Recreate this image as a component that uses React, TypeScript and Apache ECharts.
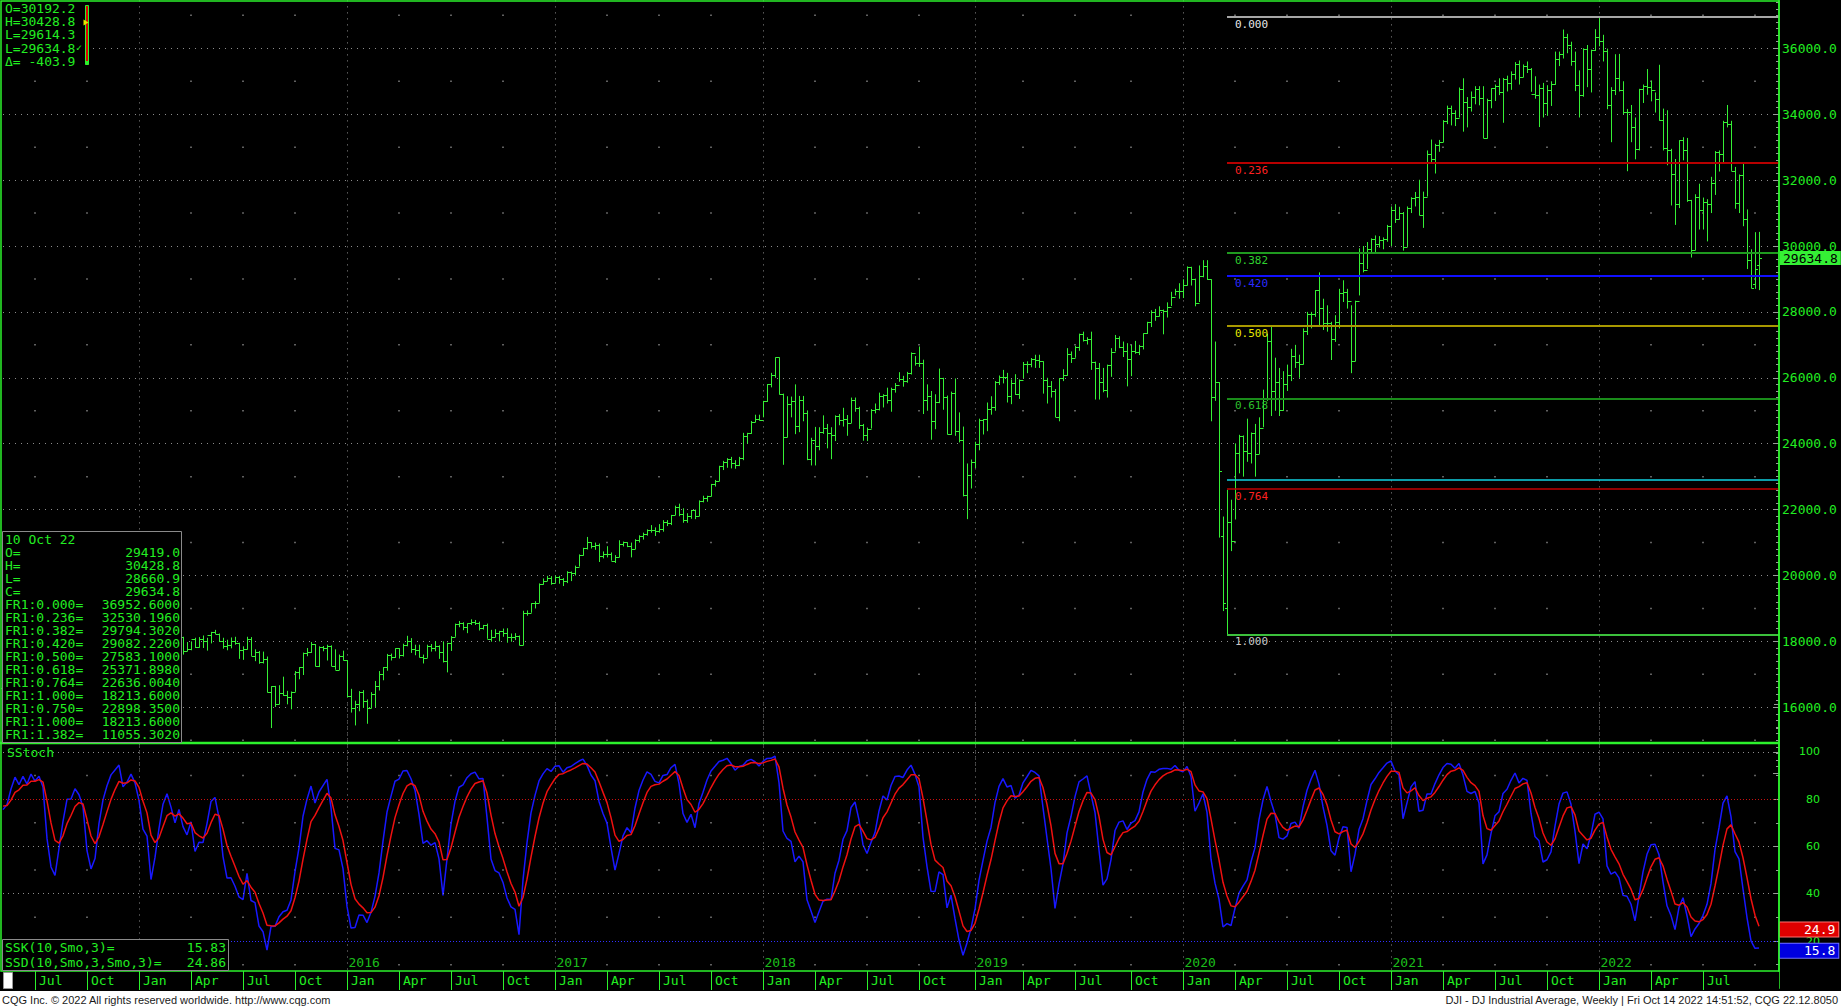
import React, { useEffect, useRef } from "react";
import * as echarts from "echarts";

type Row = [string, number, number, number, number];

// Weekly OHLC of the DJI (week starting Monday): [MM-DD, open, high, low, close]
const w2014: Row[] = [
  ["02-03",15698,15798,15340,15794],["02-10",15794,16154,15760,16154],["02-17",16154,16175,15960,16103],["02-24",16103,16330,15990,16322],
  ["03-03",16322,16460,16150,16452],["03-10",16452,16460,16050,16065],["03-17",16065,16400,16050,16302],["03-24",16302,16400,16170,16323],["03-31",16323,16620,16300,16413],
  ["04-07",16413,16470,16015,16027],["04-14",16027,16425,16015,16409],["04-21",16409,16530,16350,16361],["04-28",16361,16630,16340,16513],
  ["05-05",16513,16620,16440,16584],["05-12",16584,16736,16370,16491],["05-19",16491,16615,16360,16606],["05-26",16606,16735,16600,16717],
  ["06-02",16717,16930,16700,16924],["06-09",16924,16970,16700,16776],["06-16",16776,16980,16760,16948],["06-23",16948,16950,16710,16851],["06-30",16851,17075,16850,17068],
  ["07-07",17068,17070,16830,16944],["07-14",16944,17150,16890,17100],["07-21",17100,17150,16950,16961],["07-28",16961,17000,16330,16493],
  ["08-04",16493,16630,16330,16553],["08-11",16553,16700,16520,16663],["08-18",16663,17050,16660,17001],["08-25",17001,17110,17000,17098],
  ["09-01",17098,17150,16990,17137],["09-08",17137,17140,16930,16988],["09-15",16988,17350,16960,17280],["09-22",17280,17280,16950,17113],["09-29",17113,17120,16750,17010],
  ["10-06",17010,17150,16540,16544],["10-13",16544,16560,15855,16380],["10-20",16380,16820,16380,16805],["10-27",16805,17400,16800,17391],
  ["11-03",17391,17580,17370,17574],["11-10",17574,17680,17530,17634],["11-17",17634,17820,17600,17810],["11-24",17810,17900,17790,17828],
  ["12-01",17828,17990,17750,17958],["12-08",17958,17990,17280,17280],["12-15",17280,17800,17070,17804],["12-22",17804,18100,17800,18053],["12-29",18053,18100,17800,17833],
];
const w2015: Row[] = [
  ["01-05",17833,17900,17260,17737],["01-12",17737,17900,17240,17512],["01-19",17512,17860,17270,17673],["01-26",17673,17700,17140,17165],
  ["02-02",17165,17900,17040,17824],["02-09",17824,18030,17600,18019],["02-16",18019,18160,17900,18140],["02-23",18140,18240,18040,18133],
  ["03-02",18133,18290,17800,17856],["03-09",17856,17990,17630,17749],["03-16",17749,18200,17700,18128],["03-23",18128,18140,17600,17713],["03-30",17713,17980,17700,17763],
  ["04-06",17763,18000,17730,18058],["04-13",18058,18110,17800,17826],["04-20",17826,18130,17810,18080],["04-27",18080,18180,17800,18024],
  ["05-04",18024,18110,17720,18191],["05-11",18191,18290,17940,18273],["05-18",18273,18350,18220,18232],["05-25",18232,18240,17990,18011],
  ["06-01",18011,18110,17780,17849],["06-08",17849,18050,17730,17899],["06-15",17899,18120,17790,18016],["06-22",18016,18140,17900,17947],["06-29",17947,17960,17470,17730],
  ["07-06",17730,17850,17440,17760],["07-13",17760,18140,17750,18086],["07-20",18086,18130,17560,17568],["07-27",17568,17760,17400,17690],
  ["08-03",17690,17710,17320,17373],["08-10",17373,17690,17330,17477],["08-17",17477,17540,16450,16460],["08-24",16460,16640,15370,16643],["08-31",16643,16650,16010,16102],
  ["09-07",16102,16670,16090,16433],["09-14",16433,16930,16350,16384],["09-21",16384,16500,16090,16315],["09-28",16315,16480,15940,16472],
  ["10-05",16472,17100,16470,17084],["10-12",17084,17220,16850,17216],["10-19",17216,17660,16980,17647],["10-26",17647,17800,17550,17664],
  ["11-02",17664,17980,17650,17910],["11-09",17910,17920,17240,17245],["11-16",17245,17850,17220,17824],["11-23",17824,17860,17700,17798],["11-30",17798,17900,17420,17848],
  ["12-07",17848,17880,17250,17265],["12-14",17265,17760,17140,17128],["12-21",17128,17600,17130,17553],["12-28",17553,17720,17420,17425],
];
const w2016: Row[] = [
  ["01-04",17425,17430,16300,16346],["01-11",16346,16560,15840,15988],["01-18",15988,16200,15450,16094],["01-25",16094,16490,15880,16466],
  ["02-01",16466,16520,15980,16205],["02-08",16205,16240,15500,15974],["02-15",15974,16460,15970,16392],["02-22",16392,16800,16010,16640],["02-29",16640,17100,16510,17007],
  ["03-07",17007,17220,16820,17213],["03-14",17213,17620,17110,17602],["03-21",17602,17630,17420,17516],["03-28",17516,17790,17500,17793],
  ["04-04",17793,17800,17480,17577],["04-11",17577,17930,17540,17898],["04-18",17898,18170,17850,18004],["04-25",18004,18100,17650,17774],
  ["05-02",17774,17900,17580,17740],["05-09",17740,17900,17510,17535],["05-16",17535,17600,17330,17501],["05-23",17501,17900,17500,17873],["05-30",17873,17920,17690,17807],
  ["06-06",17807,18010,17700,17865],["06-13",17865,17880,17470,17675],["06-20",17675,18000,17360,17400],["06-27",17400,17960,17060,17949],
  ["07-04",17949,18160,17710,18147],["07-11",18147,18540,18140,18517],["07-18",18517,18620,18430,18571],["07-25",18571,18580,18340,18432],
  ["08-01",18432,18550,18250,18544],["08-08",18544,18670,18500,18576],["08-15",18576,18650,18500,18552],["08-22",18552,18600,18330,18395],["08-29",18395,18500,18360,18492],
  ["09-05",18492,18540,18080,18085],["09-12",18085,18350,17990,18124],["09-19",18124,18370,18120,18262],["09-26",18262,18320,18000,18308],
  ["10-03",18308,18390,18140,18240],["10-10",18240,18400,17960,18138],["10-17",18138,18240,17990,18145],["10-24",18145,18250,18040,18161],["10-31",18161,18180,17880,17888],
  ["11-07",17888,18930,17880,18847],["11-14",18847,18940,18780,18868],["11-21",18868,19160,18870,19152],["11-28",19152,19220,19000,19171],
  ["12-05",19171,19760,19170,19757],["12-12",19757,19910,19720,19843],["12-19",19843,19990,19830,19934],["12-26",19934,19980,19720,19763],
];
const w2017: Row[] = [
  ["01-02",19763,20000,19780,19964],["01-09",19964,19990,19750,19886],["01-16",19886,19920,19680,19827],["01-23",19827,20130,19770,20094],["01-30",20094,20120,19830,20071],
  ["02-06",20071,20300,20000,20270],["02-13",20270,20640,20270,20624],["02-20",20624,20840,20600,20822],["02-27",20822,21170,20790,21006],
  ["03-06",21006,21010,20820,20903],["03-13",20903,21000,20780,20915],["03-20",20915,20970,20410,20597],["03-27",20597,20730,20520,20663],
  ["04-03",20663,20890,20550,20656],["04-10",20656,20700,20450,20453],["04-17",20453,20620,20380,20548],["04-24",20548,21070,20550,20941],
  ["05-01",20941,21030,20880,21007],["05-08",21007,21010,20860,20897],["05-15",20897,21000,20550,20804],["05-22",20804,21100,20800,21080],["05-29",21080,21220,21000,21206],
  ["06-05",21206,21300,21090,21272],["06-12",21272,21400,21210,21384],["06-19",21384,21530,21300,21395],["06-26",21395,21460,21200,21350],
  ["07-03",21350,21560,21300,21414],["07-10",21414,21680,21330,21638],["07-17",21638,21680,21500,21580],["07-24",21580,21840,21530,21830],["07-31",21830,22120,21830,22092],
  ["08-07",22092,22180,21800,21858],["08-14",21858,22040,21600,21675],["08-21",21675,21890,21600,21814],["08-28",21814,21990,21720,21988],
  ["09-04",21988,22000,21710,21798],["09-11",21798,22280,21800,22268],["09-18",22268,22420,22220,22350],["09-25",22350,22420,22240,22405],
  ["10-02",22405,22780,22400,22774],["10-09",22774,22900,22700,22872],["10-16",22872,23330,22860,23329],["10-23",23329,23480,23200,23434],["10-30",23434,23560,23270,23539],
  ["11-06",23539,23600,23250,23422],["11-13",23422,23500,23240,23358],["11-20",23358,23600,23320,23558],["11-27",23558,24330,23500,24231],
  ["12-04",24231,24330,24000,24329],["12-11",24329,24690,24300,24652],["12-18",24652,24880,24650,24754],["12-25",24754,24880,24700,24719],
];
const w2018: Row[] = [
  ["01-01",24719,25300,24800,25296],["01-08",25296,25810,25270,25803],["01-15",25803,26150,25710,26072],["01-22",26072,26620,26000,26617],["01-29",26617,26620,25490,25521],
  ["02-05",25521,25520,23360,24191],["02-12",24191,25440,24190,25219],["02-19",25219,25430,24800,25310],["02-26",25310,25800,24290,24538],
  ["03-05",24538,25450,24350,25336],["03-12",25336,25450,24680,24946],["03-19",24946,25010,23500,23533],["03-26",23533,24180,23340,24103],
  ["04-02",24103,24510,23340,23933],["04-09",23933,24500,23800,24360],["04-16",24360,24860,24300,24463],["04-23",24463,24600,23860,24311],["04-30",24311,24500,23530,24263],
  ["05-07",24263,24860,24080,24831],["05-14",24831,24900,24560,24715],["05-21",24715,25090,24520,24753],["05-28",24753,24870,24240,24635],
  ["06-04",24635,25400,24630,25317],["06-11",25317,25400,24970,25090],["06-18",25090,25120,24450,24581],["06-25",24581,24600,24090,24271],
  ["07-02",24271,24490,24080,24456],["07-09",24456,25050,24460,25019],["07-16",25019,25220,24920,25058],["07-23",25058,25550,25010,25451],["07-30",25451,25500,25100,25463],
  ["08-06",25463,25700,25220,25313],["08-13",25313,25700,24970,25669],["08-20",25669,25840,25550,25790],["08-27",25790,26170,25880,25965],
  ["09-03",25965,26060,25730,25917],["09-10",25917,26180,25850,26155],["09-17",26155,26770,26100,26743],["09-24",26743,26660,26370,26458],
  ["10-01",26458,26950,26330,26447],["10-08",26447,26550,24900,25340],["10-15",25340,25800,25000,25444],["10-22",25444,25600,24120,24688],["10-29",24688,25500,24440,25270],
  ["11-05",25270,26280,25230,25989],["11-12",25989,26000,25030,25413],["11-19",25413,25460,24280,24286],["11-26",24286,25580,24270,25538],
  ["12-03",25538,25980,24240,24389],["12-10",24389,24950,24040,24100],["12-17",24100,24520,22400,22445],["12-24",22445,23400,21710,23062],["12-31",23062,23520,22640,23433],
];
const w2019: Row[] = [
  ["01-07",23433,24060,23260,23996],["01-14",23996,24760,23800,24706],["01-21",24706,24750,24280,24737],["01-28",24737,25250,24380,25064],
  ["02-04",25064,25440,24880,25106],["02-11",25106,25900,25000,25883],["02-18",25883,26070,25780,26031],["02-25",26031,26240,25830,26026],
  ["03-04",26026,26150,25250,25450],["03-11",25450,25950,25200,25849],["03-18",25849,26110,25480,25502],["03-25",25502,25950,25360,25929],
  ["04-01",25929,26480,25990,26425],["04-08",26425,26500,26140,26412],["04-15",26412,26600,26320,26560],["04-22",26560,26700,26300,26543],["04-29",26543,26700,26300,26505],
  ["05-06",26505,26500,25520,25942],["05-13",25942,26000,25220,25764],["05-20",25764,25900,25400,25586],["05-27",25586,25660,24810,24815],
  ["06-03",24815,25990,24680,25984],["06-10",25984,26260,25900,26090],["06-17",26090,26900,26060,26719],["06-24",26719,26800,26450,26600],
  ["07-01",26600,26970,26610,26922],["07-08",26922,27340,26820,27332],["07-15",27332,27400,27100,27154],["07-22",27154,27230,27010,27192],["07-29",27192,27400,26240,26485],
  ["08-05",26485,26490,25340,26287],["08-12",26287,26450,25340,25886],["08-19",25886,26300,25560,25629],["08-26",25629,26400,25400,26403],
  ["09-02",26403,26900,26030,26797],["09-09",26797,27300,26800,27220],["09-16",27220,27260,26900,26935],["09-23",26935,27100,26630,26820],["09-30",26820,27050,25740,26573],
  ["10-07",26573,27000,26050,26817],["10-14",26817,27120,26730,26770],["10-21",26770,27000,26690,26958],["10-28",26958,27350,26860,27347],
  ["11-04",27347,27700,27330,27681],["11-11",27681,28050,27540,28005],["11-18",28005,28090,27730,27876],["11-25",27876,28170,27860,28051],
  ["12-02",28051,28070,27320,28015],["12-09",28015,28290,27830,28135],["12-16",28135,28610,28180,28455],["12-23",28455,28700,28500,28645],["12-30",28645,28870,28400,28635],
];
const w2020: Row[] = [
  ["01-06",28635,28990,28420,28824],["01-13",28824,29380,28800,29348],["01-20",29348,29370,28800,28990],["01-27",28990,29010,28170,28256],
  ["02-03",28256,29410,28300,29102],["02-10",29102,29570,29050,29398],["02-17",29398,29570,28970,28992],["02-24",28992,28990,24680,25409],
  ["03-02",25409,27100,25300,25864],["03-09",25864,25870,21150,23186],["03-16",21200,21790,18920,19174],["03-23",19028,22600,18214,21636],["03-30",21636,22300,20740,21053],
  ["04-06",21053,24010,21700,23719],["04-13",23719,24270,23100,24242],["04-20",24242,24250,23000,23775],["04-27",23775,24760,23450,23724],
  ["05-04",23724,24340,23400,24331],["05-11",24331,24600,23000,23685],["05-18",23685,24800,23690,24465],["05-25",24465,25640,24500,25383],
  ["06-01",25383,27340,25300,27111],["06-08",27111,27580,24840,25606],["06-15",25606,26610,25000,25871],["06-22",25871,26300,24840,25016],["06-29",25016,26200,25000,25827],
  ["07-06",25827,26400,25600,26075],["07-13",26075,26880,25900,26672],["07-20",26672,27000,26300,26470],["07-27",26470,26700,26000,26428],
  ["08-03",26428,27500,26400,27433],["08-10",27433,28000,27300,27931],["08-17",27931,28000,27500,27930],["08-24",27930,28660,27850,28654],["08-31",28654,29200,27600,28133],
  ["09-07",28133,28400,27450,27666],["09-14",27666,28200,27400,27657],["09-21",27657,27700,26540,27174],["09-28",27174,27900,27090,27683],
  ["10-05",27683,28700,27500,28587],["10-12",28587,28960,28300,28606],["10-19",28606,28700,28100,28336],["10-26",28336,28200,26140,26502],
  ["11-02",26502,28340,26500,28323],["11-09",28323,29930,28500,29480],["11-16",29480,30000,29200,29263],["11-23",29263,30120,29300,29910],["11-30",29910,30230,29800,30218],
  ["12-07",30218,30320,29770,30046],["12-14",30046,30300,29950,30179],["12-21",30179,30260,29900,30200],["12-28",30200,30640,30130,30606],
];
const w2021: Row[] = [
  ["01-04",30606,31200,30000,31098],["01-11",31098,31270,30700,30814],["01-18",30814,31190,30800,30997],["01-25",30997,31030,29860,29983],
  ["02-01",29983,31200,29990,31148],["02-08",31148,31480,31000,31458],["02-15",31458,31640,31200,31494],["02-22",31494,32010,30930,30932],
  ["03-01",30932,31650,30550,31496],["03-08",31496,32900,31500,32779],["03-15",32779,33230,32500,32628],["03-22",32628,33100,32200,33073],["03-29",33073,33220,32860,33153],
  ["04-05",33153,33820,33150,33801],["04-12",33801,34260,33700,34200],["04-19",34200,34260,33660,34043],["04-26",34043,34120,33640,33875],
  ["05-03",33875,34810,33900,34778],["05-10",34778,35090,33470,34382],["05-17",34382,34520,33600,34208],["05-24",34208,34690,34080,34529],["05-31",34529,34850,34300,34756],
  ["06-07",34756,34850,34270,34480],["06-14",34480,34850,33270,33290],["06-21",33290,34470,33260,34433],["06-28",34433,34790,34180,34786],
  ["07-05",34786,34900,34400,34870],["07-12",34870,35090,34580,34688],["07-19",34688,35100,33740,35062],["07-26",35062,35170,34690,34935],
  ["08-02",34935,35300,34740,35209],["08-09",35209,35580,35050,35515],["08-16",35515,35630,34900,35120],["08-23",35120,35510,35120,35456],["08-30",35456,35600,35250,35369],
  ["09-06",35369,35400,34680,34608],["09-13",34608,35150,34470,34584],["09-20",34584,34900,33610,34798],["09-27",34798,34950,33900,34326],
  ["10-04",34326,34880,33950,34746],["10-11",34746,35000,34250,34912],["10-18",34912,35900,34890,35677],["10-25",35677,35900,35460,35820],
  ["11-01",35820,36570,35690,36328],["11-08",36328,36440,35850,36100],["11-15",36100,36200,35470,35602],["11-22",35602,35900,34700,34899],["11-29",34899,35330,33900,34580],
  ["12-06",34580,36000,34530,35971],["12-13",35971,36100,34820,35365],["12-20",35365,35960,34660,35950],["12-27",35950,36580,35920,36338],
];
const w2022: Row[] = [
  ["01-03",36338,36953,36060,36231],["01-10",36231,36410,35600,35912],["01-17",35912,35990,34150,34265],["01-24",34265,34820,33150,34725],["01-31",34725,35820,34580,35090],
  ["02-07",35090,35830,34690,34738],["02-14",34738,35000,34000,34079],["02-21",34079,34160,32270,34059],["02-28",34059,34280,33150,33615],
  ["03-07",33615,33900,32630,32944],["03-14",32944,34770,32900,34754],["03-21",34754,34900,34340,34861],["03-28",34861,35370,34590,34818],
  ["04-04",34818,35020,34390,34721],["04-11",34721,34660,34050,34451],["04-18",34451,35500,33800,33811],["04-25",33811,34170,32900,32977],
  ["05-02",32977,34120,32450,32899],["05-09",32899,32950,31230,32197],["05-16",32197,32640,30640,31262],["05-23",31262,33210,31150,33213],["05-30",33213,33300,32600,32900],
  ["06-06",32900,33280,31340,31393],["06-13",31393,31400,29650,29889],["06-20",29889,31570,29870,31501],["06-27",31501,31890,30500,31097],
  ["07-04",31097,31470,30500,31338],["07-11",31338,31420,30140,31288],["07-18",31288,32100,31000,31900],["07-25",31900,32880,31550,32845],
  ["08-01",32845,32900,32260,32803],["08-08",32803,33800,32500,33761],["08-15",33761,34280,33600,33707],["08-22",33707,33800,32280,32283],["08-29",32283,32400,31130,31318],
  ["09-05",31318,32170,31000,32152],["09-12",32152,32500,30600,30822],["09-19",30822,31110,29300,29590],["09-26",29590,29900,28715,28726],
  ["10-03",28855,30420,28700,29297],["10-10",29419,30429,28661,29635],
];
const yearData: [number, Row[]][] = [
  [2014, w2014], [2015, w2015], [2016, w2016], [2017, w2017], [2018, w2018],
  [2019, w2019], [2020, w2020], [2021, w2021], [2022, w2022],
];

const VISIBLE_START = "2014-05-12";
const PAD_WEEKS = 5;
const K_LEN = 10;
const SMO_LEN = 3;

const fibStartDate = "2020-03-23";
const fibLevels = [
  { ratio: "0.000", value: 36952.6, line: "#a6a6a6", text: "#e6e6e6", width: 2, label: true },
  { ratio: "0.236", value: 32530.196, line: "#b80000", text: "#ff2020", width: 2, label: true },
  { ratio: "0.382", value: 29794.302, line: "#1f9a1f", text: "#2fd02f", width: 2, label: true },
  { ratio: "0.420", value: 29082.22, line: "#1010ff", text: "#2a2aff", width: 2, label: true },
  { ratio: "0.500", value: 27583.1, line: "#a89800", text: "#e8e800", width: 2, label: true },
  { ratio: "0.618", value: 25371.898, line: "#1a8c1a", text: "#2cc02c", width: 2, label: true },
  { ratio: "0.750", value: 22898.35, line: "#10d0e0", text: "#10d0e0", width: 1.5, label: false },
  { ratio: "0.764", value: 22636.004, line: "#c00000", text: "#ff2020", width: 1.5, label: true },
  { ratio: "1.000", value: 18213.6, line: "#3cc03c", text: "#c8c8c8", width: 2, label: true },
];

const lastClose = 29634.8;
const lastCloseText = "29634.8";
const sskLast = 15.83;
const ssdLast = 24.86;

const topBoxLines = ["O=30192.2", "H=30428.8", "L=29614.3", "L=29634.8", "\u0394= -403.9"];
const legendLines: [string, string][] = [
  ["10 Oct 22", ""],
  ["O=", "29419.0"],
  ["H=", "30428.8"],
  ["L=", "28660.9"],
  ["C=", "29634.8"],
  ["FR1:0.000=", "36952.6000"],
  ["FR1:0.236=", "32530.1960"],
  ["FR1:0.382=", "29794.3020"],
  ["FR1:0.420=", "29082.2200"],
  ["FR1:0.500=", "27583.1000"],
  ["FR1:0.618=", "25371.8980"],
  ["FR1:0.764=", "22636.0040"],
  ["FR1:1.000=", "18213.6000"],
  ["FR1:0.750=", "22898.3500"],
  ["FR1:1.000=", "18213.6000"],
  ["FR1:1.382=", "11055.3020"],
];
const stochLegend: [string, string][] = [
  ["SSK(10,Smo,3)=", "15.83"],
  ["SSD(10,Smo,3,Smo,3)=", "24.86"],
];
const monthNames: Record<number, string> = { 1: "Jan", 4: "Apr", 7: "Jul", 10: "Oct" };

const GREEN = "#2cf22c";
const TEXT_GREEN = "#22ee22";
const BAR_COLOR = "#35f035";
const MONO = "'DejaVu Sans Mono', monospace";

function buildOption() {
  const all = yearData.flatMap(([yr, rows]) =>
    rows.map((r) => ({ date: `${yr}-${r[0]}`, o: r[1], h: r[2], l: r[3], c: r[4] }))
  );
  const raw = all.map((d, i) => {
    let hh = -Infinity;
    let ll = Infinity;
    for (let j = Math.max(0, i - K_LEN + 1); j <= i; j++) {
      hh = Math.max(hh, all[j].h);
      ll = Math.min(ll, all[j].l);
    }
    return hh > ll ? (100 * (d.c - ll)) / (hh - ll) : 50;
  });
  const smo = (a: number[], n: number) => {
    let s = a[0];
    return a.map((v, i) => (s = i === 0 ? v : s + (v - s) / n));
  };
  const ssk = smo(raw, SMO_LEN);
  const ssd = smo(ssk, SMO_LEN);

  const start = all.findIndex((d) => d.date === VISIBLE_START);
  const vis = all.slice(start);
  const cats = vis.map((d) => d.date);
  const lastT = Date.parse(cats[cats.length - 1] + "T00:00:00Z");
  for (let k = 1; k <= PAD_WEEKS; k++) {
    cats.push(new Date(lastT + k * 7 * 86400000).toISOString().slice(0, 10));
  }
  const monthOf = (s: string) => +s.slice(5, 7);
  const dayOf = (s: string) => +s.slice(8, 10);
  const isQuarter = cats.map((s) => !!monthNames[monthOf(s)] && dayOf(s) <= 7);
  const isJan = cats.map((s) => monthOf(s) === 1 && dayOf(s) <= 7);
  const lastBar = vis.length - 1;
  const endIdx = cats.length - 1;
  const fibIdx = cats.indexOf(fibStartDate);
  // month ticks/labels only where a label still fits before the axis end
  const showMonth = isQuarter.map((q, i) => q && i <= endIdx - 8);

  const priceData = vis.map((d, i) => [i, d.o, d.h, d.l, d.c]);
  const sskData = ssk.slice(start).map((v, i) => [i, v]);
  const ssdData = ssd.slice(start).map((v, i) => [i, v]);

  const quarterOnly: number[] = [];
  isQuarter.forEach((q, i) => { if (q && !isJan[i]) quarterOnly.push(i); });
  const priceDots: any[] = [];
  const stochDots: any[] = [];
  quarterOnly.forEach((i) => {
    for (let lv = 15000; lv <= 37000; lv += 2000) priceDots.push([i, lv]);
    for (let lv = 10; lv <= 90; lv += 20) stochDots.push([i, lv]);
  });
  // year labels (the one under the indicator legend box is hidden there)
  const yearLabels: any[] = [];
  isJan.forEach((j, i) => { if (j && i >= 58) yearLabels.push([i, 10.7, cats[i].slice(0, 4)]); });

  const splitX = (flags: boolean[]) => ({
    show: true,
    interval: (i: number) => flags[i],
    lineStyle: { color: "#8c8c8c", type: [1, 5], width: 1 },
  });

  const catAxisHidden = (gridIndex: number) => ({
    gridIndex,
    type: "category",
    data: cats,
    boundaryGap: false,
    axisLine: { show: false },
    axisTick: { show: false },
    axisLabel: { show: false },
    splitLine: splitX(isJan),
  });

  const fibMarks = fibLevels.map((f) => [
    {
      coord: [fibIdx, f.value],
      lineStyle: { color: f.line, width: f.width, type: "solid" },
      label: {
        show: f.label,
        formatter: f.ratio,
        position: "insideStartBottom",
        distance: [8, 2],
        color: f.text,
        fontFamily: MONO,
        fontSize: 11,
      },
    },
    { coord: [endIdx, f.value] },
  ]);

  const valueBox = (value: number, text: string, bg: string, border: string, fg: string, padLeft: number) => [
    {
      coord: [lastBar, value],
      lineStyle: { color: "rgba(0,0,0,0)", width: 0.01 },
      label: {
        show: true,
        position: "end",
        distance: 1,
        formatter: text,
        color: fg,
        backgroundColor: bg,
        borderColor: border,
        borderWidth: border === "none" ? 0 : 1,
        padding: [1, 3, 0, padLeft],
        fontFamily: MONO,
        fontSize: 13,
        lineHeight: 13,
      },
    },
    { coord: [endIdx, value] },
  ];

  const graphics: any[] = [];
  const txt = (x: number, y: number, text: string, opts: any = {}) => ({
    type: "text",
    x,
    y,
    z: 101,
    silent: true,
    style: {
      text,
      fill: opts.fill || TEXT_GREEN,
      font: opts.font || `13px ${MONO}`,
      textAlign: opts.align || "left",
      textVerticalAlign: "middle",
    },
  });
  // top-left OHLC box
  graphics.push({ type: "rect", z: 90, silent: true, shape: { x: 2, y: 2, width: 88, height: 65 }, style: { fill: "#000" } });
  topBoxLines.forEach((t, i) => graphics.push(txt(5, 8.5 + i * 13.2, t)));
  graphics.push(txt(76, 47.5, "\u2713", { font: `10px ${MONO}` }));
  graphics.push({ type: "rect", z: 95, silent: true, shape: { x: 85.5, y: 5.5, width: 3, height: 59 }, style: { fill: "#e00000", stroke: GREEN, lineWidth: 1 } });
  graphics.push({ type: "rect", z: 96, silent: true, shape: { x: 85.5, y: 61, width: 3, height: 3.5 }, style: { fill: GREEN } });
  graphics.push({ type: "polygon", z: 97, silent: true, shape: { points: [[83.5, 19.5], [88.5, 22.5], [83.5, 25.5]] }, style: { fill: "#e8e800" } });

  // date / fib legend box
  graphics.push({ type: "rect", z: 90, silent: true, shape: { x: 2.5, y: 531.5, width: 179, height: 211 }, style: { fill: "#000", stroke: "#8a8a8a", lineWidth: 1 } });
  legendLines.forEach(([a, b], i) => {
    graphics.push(txt(5, 539 + i * 13, a));
    if (b) graphics.push(txt(180, 539 + i * 13, b, { align: "right" }));
  });

  // stochastic legend box
  graphics.push({ type: "rect", z: 90, silent: true, shape: { x: 2.5, y: 939.5, width: 226, height: 31 }, style: { fill: "#000", stroke: "#8a8a8a", lineWidth: 1 } });
  stochLegend.forEach(([a, b], i) => {
    graphics.push(txt(5, 947 + i * 15, a));
    graphics.push(txt(226, 947 + i * 15, b, { align: "right" }));
  });
  graphics.push(txt(7, 752, "SStoch"));

  // cover of axis band, borders
  graphics.push({ type: "rect", z: 50, silent: true, shape: { x: 0, y: 972, width: 1779, height: 19 }, style: { fill: "#000" } });
  graphics.push({ type: "rect", z: 80, silent: true, shape: { x: 1, y: 1, width: 1778, height: 742 }, style: { fill: "none", stroke: GREEN, lineWidth: 1.5 } });
  graphics.push({ type: "rect", z: 80, silent: true, shape: { x: 1, y: 743, width: 1778, height: 228 }, style: { fill: "none", stroke: GREEN, lineWidth: 1.5 } });
  graphics.push({ type: "line", z: 81, silent: true, shape: { x1: 0, y1: 743, x2: 1779, y2: 743 }, style: { stroke: GREEN, lineWidth: 2.5 } });
  graphics.push({ type: "rect", z: 82, silent: true, shape: { x: 3.5, y: 972.5, width: 9, height: 16 }, style: { fill: "#ffffff", stroke: "#9a9a9a", lineWidth: 1 } });

  // footer
  graphics.push({ type: "rect", z: 90, silent: true, shape: { x: 0, y: 991, width: 1841, height: 17 }, style: { fill: "#ffffff" } });
  graphics.push(txt(2, 1000, "CQG Inc. \u00a9 2022 All rights reserved worldwide. http://www.cqg.com", { fill: "#1a1a1a", font: "11px 'Liberation Sans', Arial, sans-serif" }));
  graphics.push(txt(1838, 1000, "DJI - DJ Industrial Average, Weekly | Fri Oct 14 2022 14:51:52, CQG 22.12.8050", { fill: "#1a1a1a", font: "11px 'Liberation Sans', Arial, sans-serif", align: "right" }));

  return {
    animation: false,
    backgroundColor: "#000",
    grid: [
      { left: 3, top: -17.6, width: 1776, height: 790.8, outerBoundsMode: "none" },
      { left: 3, top: 704.5, width: 1776, height: 283.8, outerBoundsMode: "none" },
      { left: 3, top: 970, width: 1776, height: 1, outerBoundsMode: "none" },
    ],
    xAxis: [
      catAxisHidden(0),
      catAxisHidden(1),
      {
        gridIndex: 2,
        type: "category",
        data: cats,
        boundaryGap: false,
        position: "bottom",
        z: 60,
        axisLine: { show: false },
        axisTick: { show: true, interval: (i: number) => showMonth[i], length: 19, lineStyle: { color: GREEN, width: 1 } },
        axisLabel: {
          show: true,
          interval: (i: number) => showMonth[i],
          formatter: (v: string) => monthNames[monthOf(v)] || "",
          color: TEXT_GREEN,
          fontFamily: MONO,
          fontSize: 13,
          align: "left",
          margin: 3,
          padding: [0, 0, 0, 4],
        },
        splitLine: { show: false },
      },
    ],
    yAxis: [
      {
        gridIndex: 0,
        type: "value",
        position: "right",
        min: 14000,
        max: 38000,
        interval: 2000,
        axisLine: { show: true, lineStyle: { color: GREEN, width: 1.5 } },
        axisTick: { show: true, inside: true, length: 6, lineStyle: { color: "#9a9a9a" } },
        minorTick: { show: true, splitNumber: 10, length: 3, lineStyle: { color: "#9a9a9a" } },
        axisLabel: {
          color: TEXT_GREEN,
          fontFamily: MONO,
          fontSize: 13,
          margin: 3,
          formatter: (v: number) => v.toFixed(1),
          showMinLabel: false,
          showMaxLabel: false,
        },
        splitLine: { show: true, showMinLine: false, showMaxLine: false, lineStyle: { color: "#8c8c8c", type: [1, 5], width: 1 } },
      },
      {
        gridIndex: 1,
        type: "value",
        position: "right",
        min: 0,
        max: 120,
        interval: 20,
        axisLine: { show: true, lineStyle: { color: GREEN, width: 1.5 } },
        axisTick: { show: true, inside: true, length: 5, lineStyle: { color: "#9a9a9a" } },
        minorTick: { show: true, splitNumber: 2, length: 3, lineStyle: { color: "#9a9a9a" } },
        axisLabel: {
          color: TEXT_GREEN,
          fontFamily: "'DejaVu Sans', sans-serif",
          fontSize: 11,
          align: "right",
          margin: 41,
          showMinLabel: false,
          showMaxLabel: false,
        },
        splitLine: { show: false },
      },
      { gridIndex: 2, type: "value", show: false },
    ],
    graphic: { elements: graphics },
    series: [
      {
        type: "scatter",
        name: "priceDots",
        xAxisIndex: 0,
        yAxisIndex: 0,
        symbol: "rect",
        symbolSize: 1.5,
        silent: true,
        z: 1,
        itemStyle: { color: "#a0a0a0" },
        data: priceDots,
      },
      {
        type: "line",
        name: "fib",
        xAxisIndex: 0,
        yAxisIndex: 0,
        data: [],
        silent: true,
        z: 1,
        markLine: { silent: true, symbol: ["none", "none"], animation: false, data: fibMarks },
      },
      {
        type: "custom",
        name: "DJI",
        xAxisIndex: 0,
        yAxisIndex: 0,
        z: 2,
        silent: true,
        encode: { x: 0, y: [1, 2, 3, 4] },
        data: priceData,
        renderItem: (params: any, api: any) => {
          const i = api.value(0);
          const pO = api.coord([i, api.value(1)]);
          const pH = api.coord([i, api.value(2)]);
          const pL = api.coord([i, api.value(3)]);
          const pC = api.coord([i, api.value(4)]);
          const x = Math.round(pH[0]) + 0.5;
          const yo = Math.round(pO[1]) + 0.5;
          const yc = Math.round(pC[1]) + 0.5;
          const st = { stroke: BAR_COLOR, lineWidth: 1 };
          return {
            type: "group",
            children: [
              { type: "line", shape: { x1: x, y1: pH[1], x2: x, y2: pL[1] }, style: st },
              { type: "line", shape: { x1: x - 2.5, y1: yo, x2: x, y2: yo }, style: st },
              { type: "line", shape: { x1: x, y1: yc, x2: x + 2.5, y2: yc }, style: st },
            ],
          };
        },
      },
      {
        type: "line",
        name: "lastPrice",
        xAxisIndex: 0,
        yAxisIndex: 0,
        data: [],
        silent: true,
        z: 10,
        markLine: {
          silent: true,
          symbol: ["none", "none"],
          animation: false,
          data: [valueBox(lastClose, lastCloseText, "#35f035", "none", "#000", 3)],
        },
      },
      {
        type: "scatter",
        name: "stochDots",
        xAxisIndex: 1,
        yAxisIndex: 1,
        symbol: "rect",
        symbolSize: 1.5,
        silent: true,
        z: 1,
        itemStyle: { color: "#a0a0a0" },
        data: stochDots,
        markLine: {
          silent: true,
          symbol: ["none", "none"],
          animation: false,
          label: { show: false },
          lineStyle: { color: "#8c8c8c", type: [1, 4], width: 1 },
          data: [
            { yAxis: 100 },
            { yAxis: 80, lineStyle: { color: "#c81010", type: [1, 2], width: 1 } },
            { yAxis: 60 },
            { yAxis: 40 },
            { yAxis: 20, lineStyle: { color: "#3030ff", type: [1, 2], width: 1 } },
          ],
        },
      },
      {
        type: "scatter",
        name: "years",
        xAxisIndex: 1,
        yAxisIndex: 1,
        symbolSize: 1,
        silent: true,
        z: 5,
        itemStyle: { color: "rgba(0,0,0,0)" },
        data: yearLabels,
        label: {
          show: true,
          position: "right",
          distance: 1,
          formatter: (p: any) => p.value[2],
          color: TEXT_GREEN,
          fontFamily: MONO,
          fontSize: 13,
        },
      },
      {
        type: "line",
        name: "SSK",
        xAxisIndex: 1,
        yAxisIndex: 1,
        data: sskData,
        showSymbol: false,
        silent: true,
        z: 3,
        lineStyle: { color: "#1818ff", width: 1.5 },
        markLine: {
          silent: true,
          symbol: ["none", "none"],
          animation: false,
          data: [valueBox(sskLast, sskLast.toFixed(1), "#0000e0", "#7070ff", "#fff", 24)],
        },
      },
      {
        type: "line",
        name: "SSD",
        xAxisIndex: 1,
        yAxisIndex: 1,
        data: ssdData,
        showSymbol: false,
        silent: true,
        z: 4,
        lineStyle: { color: "#f01010", width: 1.5 },
        markLine: {
          silent: true,
          symbol: ["none", "none"],
          animation: false,
          data: [valueBox(ssdLast, ssdLast.toFixed(1), "#e00000", "#ff7070", "#fff", 24)],
        },
      },
    ],
  };
}

export default function App() {
  const ref = useRef<HTMLDivElement>(null);
  useEffect(() => {
    if (!ref.current) return;
    const chart = echarts.init(ref.current, null, { renderer: "svg" });
    chart.setOption(buildOption() as any);
    return () => chart.dispose();
  }, []);
  return (
    <div
      ref={ref}
      style={{ position: "absolute", left: 0, top: 0, width: 1841, height: 1008, background: "#000" }}
    />
  );
}
